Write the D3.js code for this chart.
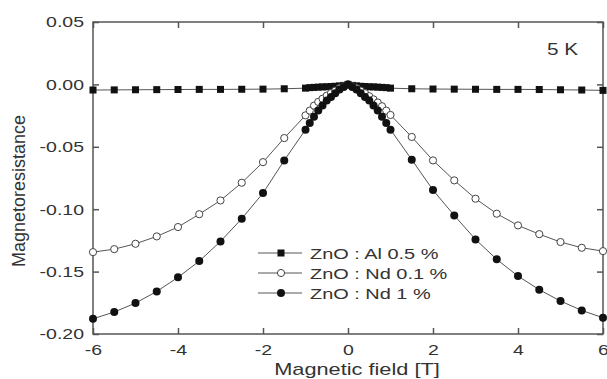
<!DOCTYPE html>
<html>
<head>
<meta charset="utf-8">
<script src="https://cdn.jsdelivr.net/npm/d3@7"></script>
<style>
  body { margin: 0; background: #fff; }
  text { font-family: "Liberation Sans", Arial, sans-serif; fill: #333; }
</style>
</head>
<body>
<svg id="chart" width="607" height="379"></svg>
<script>
// magnetic field values (T)
var field = [-6, -5.5, -5, -4.5, -4, -3.5, -3, -2.5, -2, -1.5,
  -1, -0.9, -0.8, -0.7, -0.6, -0.5, -0.4, -0.3, -0.2, -0.1, 0,
  0.1, 0.2, 0.3, 0.4, 0.5, 0.6, 0.7, 0.8, 0.9, 1,
  1.5, 2, 2.5, 3, 3.5, 4, 4.5, 5, 5.5, 6];

var al05 = [-0.0045, -0.0044, -0.0043, -0.0042, -0.0041, -0.004, -0.004, -0.0039, -0.0038, -0.0035,
  -0.003, -0.0026, -0.0024, -0.0022, -0.002, -0.0019, -0.0017, -0.0015, -0.0012, -0.0008, 0,
  -0.0008, -0.0012, -0.0015, -0.0017, -0.0019, -0.002, -0.0022, -0.0024, -0.0026, -0.003,
  -0.0035, -0.0037, -0.0038, -0.0039, -0.004, -0.004, -0.0041, -0.0043, -0.0045, -0.0048];

var nd01 = [-0.1344, -0.132, -0.1277, -0.1218, -0.1143, -0.104, -0.093, -0.0788, -0.0623, -0.043,
  -0.0248, -0.021, -0.017, -0.014, -0.0115, -0.009, -0.007, -0.005, -0.003, -0.0015, 0,
  -0.0015, -0.003, -0.005, -0.007, -0.0095, -0.012, -0.0145, -0.0175, -0.021, -0.0245,
  -0.0421, -0.0609, -0.0769, -0.0916, -0.1036, -0.113, -0.12, -0.1263, -0.1309, -0.1336];

var nd1 = [-0.1878, -0.1824, -0.1752, -0.1659, -0.1546, -0.1416, -0.1258, -0.1076, -0.0871, -0.0609,
  -0.0363, -0.031, -0.026, -0.021, -0.017, -0.013, -0.01, -0.007, -0.004, -0.002, 0,
  -0.002, -0.004, -0.007, -0.01, -0.013, -0.017, -0.021, -0.026, -0.031, -0.0363,
  -0.0603, -0.0847, -0.105, -0.1242, -0.1402, -0.1536, -0.1645, -0.1736, -0.1811, -0.187];

var xTicks = [-6, -4, -2, 0, 2, 4, 6];
var yTicks = [-0.2, -0.15, -0.1, -0.05, 0, 0.05];
var legendLabels = ["ZnO : Al 0.5 %", "ZnO : Nd 0.1 %", "ZnO : Nd 1 %"];

var svg = d3.select("#chart");
var pLeft = 93, pRight = 603, pTop = 22, pBottom = 334;
var sx = 1.3; // horizontal text stretch

var x = d3.scaleLinear().domain([-6, 6]).range([pLeft, pRight]);
var y = d3.scaleLinear().domain([-0.2, 0.05]).range([pBottom, pTop]);

function fmt(d) { return d3.format(".2f")(d).replace("\u2212", "-"); }

var gx = svg.append("g").attr("transform", "translate(0," + pBottom + ")")
  .call(d3.axisBottom(x).tickValues(xTicks).tickSizeInner(-6).tickSizeOuter(0)
    .tickFormat(function(d) { return String(d); }));
gx.selectAll("text").attr("y", 10).style("font-size", "15px")
  .attr("transform", "scale(" + sx + ",1)");

svg.append("g").attr("transform", "translate(0," + pTop + ")")
  .call(d3.axisTop(x).tickValues(xTicks).tickSizeInner(-6).tickSizeOuter(0).tickFormat(""));

var gy = svg.append("g").attr("transform", "translate(" + pLeft + ",0)")
  .call(d3.axisLeft(y).tickValues(yTicks).tickSizeInner(-6).tickSizeOuter(0).tickFormat(fmt));
gy.selectAll("text").attr("x", -9 / sx).style("font-size", "15px")
  .attr("transform", "scale(" + sx + ",1)");

svg.append("g").attr("transform", "translate(" + pRight + ",0)")
  .call(d3.axisRight(y).tickValues(yTicks).tickSizeInner(-6).tickSizeOuter(0).tickFormat(""));

svg.selectAll(".domain").remove();
svg.selectAll(".tick line").attr("stroke", "#555").attr("stroke-width", 1.5);
svg.selectAll(".tick text").attr("fill", "#333").style("font-family", "'Liberation Sans', Arial, sans-serif");

// frame
svg.append("rect")
  .attr("x", pLeft).attr("y", pTop)
  .attr("width", pRight - pLeft).attr("height", pBottom - pTop)
  .attr("fill", "none").attr("stroke", "#555").attr("stroke-width", 1.5);

// series
var series = [
  { name: legendLabels[0], values: al05, kind: "square" },
  { name: legendLabels[1], values: nd01, kind: "open" },
  { name: legendLabels[2], values: nd1, kind: "filled" }
];

var line = d3.line()
  .x(function(d) { return x(d[0]); })
  .y(function(d) { return y(d[1]); });

function drawMarker(g, kind, cx, cy) {
  if (kind === "square") {
    g.append("rect").attr("x", cx - 3.5).attr("y", cy - 3.5)
      .attr("width", 7).attr("height", 7).attr("fill", "#111");
  } else if (kind === "open") {
    g.append("circle").attr("cx", cx).attr("cy", cy).attr("r", 3.6)
      .attr("fill", "#fff").attr("stroke", "#444").attr("stroke-width", 1);
  } else {
    g.append("circle").attr("cx", cx).attr("cy", cy).attr("r", 4)
      .attr("fill", "#111");
  }
}

series.forEach(function(s) {
  var pts = field.map(function(f, i) { return [f, s.values[i]]; });
  var g = svg.append("g");
  g.append("path").datum(pts)
    .attr("d", line).attr("fill", "none")
    .attr("stroke", "#555").attr("stroke-width", 1);
  pts.forEach(function(p) { drawMarker(g, s.kind, x(p[0]), y(p[1])); });
});

// legend
var legendY = [253, 273, 293];
series.forEach(function(s, i) {
  var g = svg.append("g");
  g.append("line").attr("x1", 258).attr("x2", 302)
    .attr("y1", legendY[i]).attr("y2", legendY[i])
    .attr("stroke", "#555").attr("stroke-width", 1);
  drawMarker(g, s.kind, 281, legendY[i]);
  g.append("text")
    .attr("transform", "translate(310," + (legendY[i] + 5.5) + ") scale(1.33,1)")
    .style("font-size", "15px")
    .text(s.name);
});

svg.append("text")
  .attr("transform", "translate(547,55) scale(" + sx + ",1)")
  .style("font-size", "16px")
  .text("5 K");

svg.append("text")
  .attr("transform", "translate(357,375) scale(1.28,1)")
  .attr("text-anchor", "middle")
  .style("font-size", "17px")
  .text("Magnetic field [T]");

svg.append("text")
  .attr("transform", "translate(25,191) rotate(-90) scale(1.06,1.1)")
  .attr("text-anchor", "middle")
  .style("font-size", "17px")
  .text("Magnetoresistance");
</script>
</body>
</html>
